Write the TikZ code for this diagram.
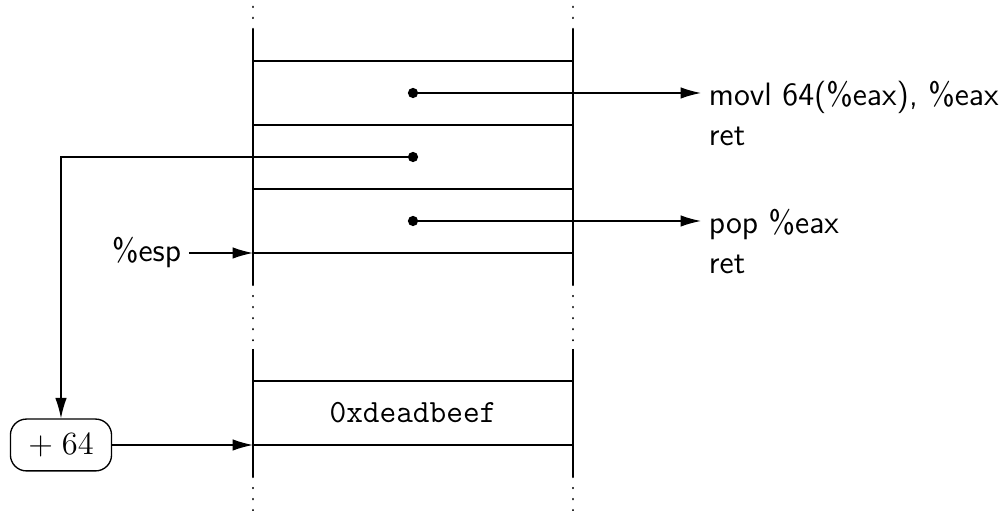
\documentclass[tikz,border=0pt]{standalone}
\usetikzlibrary{arrows.meta}
\begin{document}
\begin{tikzpicture}[
  x=1cm,y=1cm,
  wall/.style={line width=1.3pt},
  row/.style={line width=1pt},
  dotsline/.style={line width=1.1pt,dash pattern=on 0.01pt off 4.9pt,line cap=round},
  ptr/.style={line width=0.6pt,-{Latex[length=3.2mm,width=1.8mm]}},
  dot/.style={circle,fill=black,inner sep=0pt,minimum size=1.6mm},
  lbl/.style={font=\sffamily\Large,align=left},
]
\useasboundingbox (-3.953,-4.016) rectangle (11.672,3.953);
% walls
\foreach \x in {0,5}{
  \draw[wall] (\x,3.5) -- (\x,-0.5);
  \draw[wall] (\x,-1.5) -- (\x,-3.5);
  \draw[dotsline] (\x,3.5) -- (\x,4.1);
  \draw[dotsline] (\x,-0.5) -- (\x,-1.5);
  \draw[dotsline] (\x,-3.5) -- (\x,-4.1);
}
% rows
\foreach \y in {3,2,1,0,-2,-3}{
  \draw[row] (0,\y) -- (5,\y);
}
% dots
\node[dot] (d1) at (2.5,2.5) {};
\node[dot] (d2) at (2.5,1.5) {};
\node[dot] (d3) at (2.5,0.5) {};
\coordinate (t1) at (7,2.5);
\coordinate (t3) at (7,0.5);
\coordinate (espp) at (0,0);
\coordinate (boxp) at (0,-3);
\node[lbl,anchor=north west] (g1) at (7,2.81) {movl 64(\%eax), \%eax\\ret};
\node[lbl,anchor=north west] (g2) at (7,0.81) {pop \%eax\\ret};
\draw[ptr] (d1.center) -- (t1);
\draw[ptr] (d3.center) -- (t3);
\node[font=\sffamily\Large,anchor=east] (esp) at (-1,0) {\%esp};
\draw[ptr] (esp) -- (espp);
\node[draw,line width=0.6pt,rounded corners=2.5mm,minimum width=1.58cm,minimum height=0.81cm,font=\Large] (box) at (-3,-3) {$+\;64$};
\draw[ptr] (box) -- (boxp);
\draw[ptr] (d2.center) -| (box.north);
\node[font=\ttfamily\Large] (dead) at (2.5,-2.5) {0xdeadbeef};
\end{tikzpicture}
\end{document}
